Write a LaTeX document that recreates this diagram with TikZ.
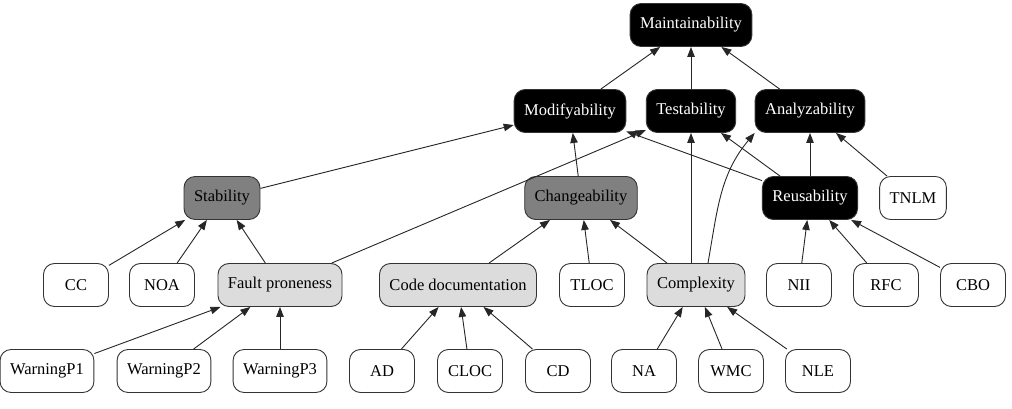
\documentclass[tikz,border=0pt]{standalone}
\usepackage{fontspec}
\setmainfont{Liberation Serif}
\usetikzlibrary{arrows.meta}
\definecolor{midgray}{HTML}{808080}
\definecolor{lightgray}{HTML}{DCDCDC}
\tikzset{
  box/.style={draw=black!80,line width=0.9pt,rounded corners=11pt,minimum height=43pt,
    minimum width=65pt,inner xsep=10pt,font=\fontsize{16.5}{19}\selectfont},
  topbox/.style={box,fill=black,text=white},
  midbox/.style={box,fill=midgray},
  lowbox/.style={box,fill=lightgray},
  leaf/.style={box,fill=white},
  arr/.style={-{Triangle[length=10pt,width=7.5pt]},line width=0.9pt,black!85}
}
\begin{document}
\begin{tikzpicture}[x=1pt,y=-1pt]
\useasboundingbox (0,0) rectangle (1012,409);
% Top levels
\node[topbox] (maint) at (691,25) {Maintainability};
\node[topbox] (modif) at (570,111) {Modifyability};
\node[topbox] (test) at (691,111) {Testability};
\node[topbox] (analyz) at (810,111) {Analyzability};

% Sub-characteristics
\node[midbox] (stab) at (222,198) {Stability};
\node[midbox] (chang) at (581,198) {Changeability};
\node[topbox] (reus) at (810,198) {Reusability};
\node[leaf] (tnlm) at (913,198) {TNLM};

% Third row
\node[leaf] (cc) at (76,285) {CC};
\node[leaf] (noa) at (162,285) {NOA};
\node[lowbox] (fault) at (280,285) {Fault proneness};
\node[lowbox] (codedoc) at (458,285) {Code documentation};
\node[leaf] (tloc) at (592,285) {TLOC};
\node[lowbox] (cplx) at (696,285) {Complexity};
\node[leaf] (nii) at (799,285) {NII};
\node[leaf] (rfc) at (886,285) {RFC};
\node[leaf] (cbo) at (973,285) {CBO};

% Metrics
\node[leaf] (wp1) at (47,371) {WarningP1};
\node[leaf] (wp2) at (164,371) {WarningP2};
\node[leaf] (wp3) at (280,371) {WarningP3};
\node[leaf] (ad) at (382,371) {AD};
\node[leaf] (cloc) at (470,371) {CLOC};
\node[leaf] (cd) at (558,371) {CD};
\node[leaf] (na) at (644,371) {NA};
\node[leaf] (wmc) at (731,371) {WMC};
\node[leaf] (nle) at (818,371) {NLE};

% Edges
\foreach \a/\b in {modif/maint,test/maint,analyz/maint,
  stab/modif,chang/modif,reus/modif,reus/test,reus/analyz,tnlm/analyz,
  fault/test,cc/stab,noa/stab,fault/stab,
  codedoc/chang,tloc/chang,cplx/chang,
  nii/reus,rfc/reus,cbo/reus,
  wp1/fault,wp2/fault,wp3/fault,
  ad/codedoc,cloc/codedoc,cd/codedoc,
  na/cplx,wmc/cplx,nle/cplx}
  \draw[arr] (\a) -- (\b);
\draw[arr] (cplx.north -| test) -- (test.south);
\draw[arr] (cplx.north) ++(12,0) to[out=80,in=230] (analyz.south west);
\end{tikzpicture}
\end{document}
